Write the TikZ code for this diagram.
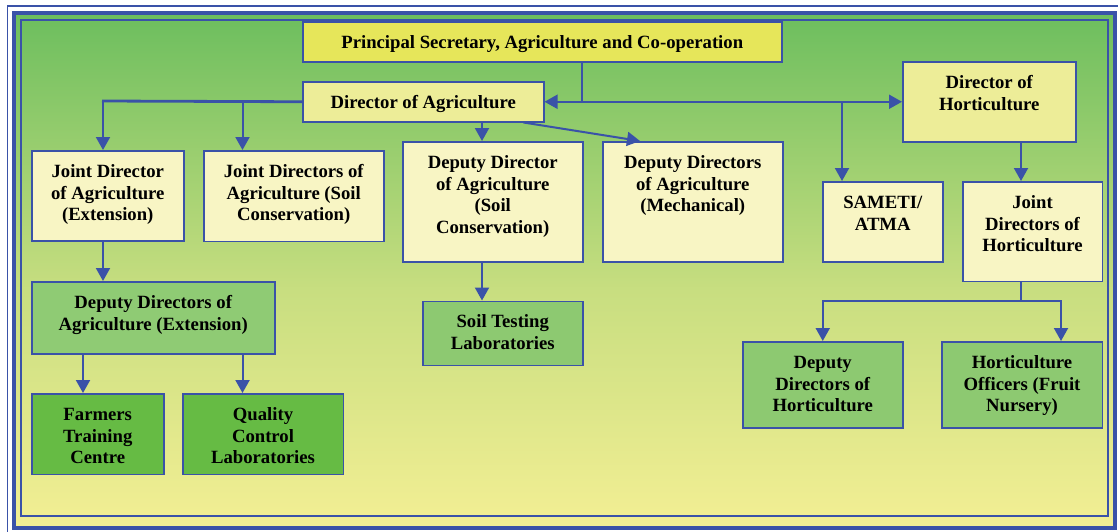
\documentclass[tikz,border=0pt]{standalone}
\usepackage{fontspec}
\setmainfont{Liberation Serif}
\usetikzlibrary{arrows.meta}
\definecolor{bl}{RGB}{58,82,168}
\definecolor{cyl}{RGB}{243,239,148}
\definecolor{cmid}{RGB}{200,222,128}
\definecolor{cgr}{RGB}{108,190,94}
\definecolor{cps}{RGB}{230,230,90}
\definecolor{cda}{RGB}{237,237,152}
\definecolor{cj}{RGB}{248,245,196}
\definecolor{cdx}{RGB}{143,203,116}
\definecolor{cft}{RGB}{102,187,68}
\definecolor{cst}{RGB}{141,201,113}
\pgfdeclareverticalshading{bgsh}{100bp}{color(0bp)=(cyl); color(25bp)=(cyl); color(48bp)=(cmid); color(75bp)=(cgr); color(100bp)=(cgr)}
\tikzset{
  box/.style={draw=bl, line width=1.5pt, anchor=north west, inner sep=0pt},
  txt/.style={anchor=north, inner sep=0pt, align=center, font=\bfseries\fontsize{18.7}{21.7}\selectfont},
  con/.style={draw=bl, line width=2pt},
  arr/.style={con, ->},
}
\begin{document}
\begin{tikzpicture}[x=1pt,y=-1pt,>={Triangle[width=14pt,length=13pt]}]
\useasboundingbox (0,0) rectangle (1118,531);
% background and frame
\shade[shading=bgsh] (14,13) rectangle (1114.5,527.5);
\draw[bl, line width=1.4pt] (7.5,5.8) rectangle (1125,540);
\draw[bl, line width=4pt] (14,12.8) rectangle (1114.5,527.5);
\draw[bl, line width=2pt] (21,19.5) rectangle (1108,516);
% boxes
\node[box, fill=cps, minimum width=479, minimum height=40] (pa) at (302,21) {};
\node[box, fill=cda, minimum width=241, minimum height=40] (da) at (302,81) {};
\node[box, fill=cda, minimum width=173, minimum height=80] (dh) at (902,61) {};
\node[box, fill=cj, minimum width=152, minimum height=90] (jde) at (31,150) {};
\node[box, fill=cj, minimum width=180, minimum height=90.5] (jds) at (203,150) {};
\node[box, fill=cj, minimum width=180, minimum height=120] (dds) at (402,141) {};
\node[box, fill=cj, minimum width=180, minimum height=120] (ddm) at (602,141) {};
\node[box, fill=cj, minimum width=120, minimum height=80] (sam) at (822,181) {};
\node[box, fill=cj, minimum width=139.5, minimum height=99.5] (jdh) at (962,181) {};
\node[box, fill=cdx, minimum width=243, minimum height=72] (dex) at (31,281) {};
\node[box, fill=cft, minimum width=132, minimum height=80.5] (ftc) at (31,393) {};
\node[box, fill=cft, minimum width=160.5, minimum height=80.5] (qcl) at (182,393) {};
\node[box, fill=cst, minimum width=160, minimum height=64] (stl) at (422,300.5) {};
\node[box, fill=cst, minimum width=160, minimum height=86] (ddh) at (742,341) {};
\node[box, fill=cst, minimum width=160.5, minimum height=86] (hof) at (941,341) {};
% texts
\node[txt] (pat) at ([yshift=-12pt]pa.north) {\strut Principal Secretary, Agriculture and Co-operation};
\node[txt] (dat) at ([yshift=-12pt]da.north) {\strut Director of Agriculture};
\node[txt] (dht) at ([yshift=-12pt]dh.north) {\strut Director of\\Horticulture};
\node[txt] (jdet) at ([yshift=-12pt]jde.north) {\strut Joint Director\\of Agriculture\\(Extension)};
\node[txt] (jdst) at ([yshift=-12pt]jds.north) {\strut Joint Directors of\\Agriculture (Soil\\Conservation)};
\node[txt] (ddst) at ([yshift=-12pt]dds.north) {\strut Deputy Director\\of Agriculture\\(Soil\\Conservation)};
\node[txt] (ddmt) at ([yshift=-12pt]ddm.north) {\strut Deputy Directors\\of Agriculture\\(Mechanical)};
\node[txt] (samt) at ([yshift=-12pt]sam.north) {\strut SAMETI/\\ATMA};
\node[txt] (jdht) at ([yshift=-12pt]jdh.north) {\strut Joint\\Directors of\\Horticulture};
\node[txt] (dext) at ([yshift=-12pt]dex.north) {\strut Deputy Directors of\\Agriculture (Extension)};
\node[txt] (ftct) at ([yshift=-12pt]ftc.north) {\strut Farmers\\Training\\Centre};
\node[txt] (qclt) at ([yshift=-12pt]qcl.north) {\strut Quality\\Control\\Laboratories};
\node[txt] (stlt) at ([yshift=-12pt]stl.north) {\strut Soil Testing\\Laboratories};
\node[txt] (ddht) at ([yshift=-12pt]ddh.north) {\strut Deputy\\Directors of\\Horticulture};
\node[txt] (hoft) at ([yshift=-12pt]hof.north) {\strut Horticulture\\Officers (Fruit\\Nursery)};
% junction coordinates
\coordinate (j1) at (582,101);
\coordinate (j2) at (842,101);
\coordinate (l1) at (103,101);
\coordinate (l2) at (242.5,101);
\coordinate (j3) at (482,0);
\coordinate (j4) at (1021,0);
\coordinate (j5) at (1021,300.5);
\coordinate (j6) at (1061,300.5);
\coordinate (j8) at (83,0);
% connectors
\draw[con] (pa.south -| j1) -- (j1);
\draw[con, <->] (da.east) -- (dh.west);
\draw[arr] (j2) -- (j2 |- sam.north);
\draw[con, line width=2.8pt] (da.west) -- ([xshift=-1pt]l1);
\draw[arr] (l1) -- (l1 |- jde.north);
\draw[arr] (l2) -- (l2 |- jds.north);
\draw[arr] (da.south -| j3) -- (j3 |- dds.north);
\draw[arr] ([xshift=-21pt]da.south east) -- ([xshift=38pt]ddm.north west);
\draw[arr] (dh.south -| j4) -- (j4 |- jdh.north);
\draw[con] (jdh.south -| j5) -- (j5);
\draw[arr] (j5) -| (ddh.north);
\draw[arr] (j5) -- (j6) -- (j6 |- hof.north);
\draw[arr] (jde.south -| l1) -- (l1 |- dex.north);
\draw[arr] (dex.south -| j8) -- (j8 |- ftc.north);
\draw[arr] (dex.south -| l2) -- (l2 |- qcl.north);
\draw[arr] (dds.south -| j3) -- (j3 |- stl.north);
\end{tikzpicture}
\end{document}
